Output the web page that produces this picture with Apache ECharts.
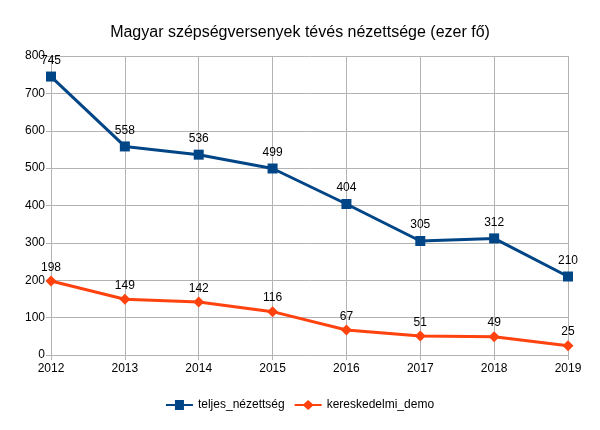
<!DOCTYPE html>
<html><head><meta charset="utf-8">
<script src="https://cdn.jsdelivr.net/npm/echarts@6/dist/echarts.min.js"></script>
<style>html,body{margin:0;padding:0;background:#fff}#c{width:600px;height:430px}</style>
</head><body><div id="c"></div>
<script>
const years = ['2012','2013','2014','2015','2016','2017','2018','2019'];
const teljes = [745,558,536,499,404,305,312,210];
const kereskedelmi = [198,149,142,116,67,51,49,25];
const chart = echarts.init(document.getElementById('c'), null, {renderer:'canvas'});
const ff = '"Liberation Sans", Arial, sans-serif';
chart.setOption({
  animation:false,
  backgroundColor:'#fff',
  title:{text:'Magyar szépségversenyek tévés nézettsége (ezer fő)',left:'center',top:20,
    textStyle:{fontFamily:ff,fontSize:16,fontWeight:'normal',color:'#000'}},
  grid:{left:51,right:32,top:56,bottom:75},
  legend:{bottom:14,left:'center',itemWidth:27,itemHeight:10,itemGap:10,
    textStyle:{fontFamily:ff,fontSize:12,color:'#000'},
    data:[{name:'teljes_nézettség',icon:'path://M0,4L9,4L9,0L18,0L18,4L27,4L27,6L18,6L18,10L9,10L9,6L0,6Z'},
          {name:'kereskedelmi_demo',icon:'path://M0,4L9,4L13.5,0L18,4L27,4L27,6L18,6L13.5,10L9,6L0,6Z'}]},
  xAxis:{type:'category',data:years,boundaryGap:false,
    axisLine:{lineStyle:{color:'#b3b3b3'}},
    axisTick:{show:true,alignWithLabel:true,length:5,lineStyle:{color:'#b3b3b3'}},
    axisLabel:{fontFamily:ff,fontSize:12,color:'#000',margin:8},
    splitLine:{show:true,lineStyle:{color:'#b3b3b3'}}},
  yAxis:{type:'value',min:0,max:800,interval:100,
    axisLine:{show:true,lineStyle:{color:'#b3b3b3'}},
    axisTick:{show:true,length:5,lineStyle:{color:'#b3b3b3'}},
    axisLabel:{fontFamily:ff,fontSize:12,color:'#000',margin:6},
    splitLine:{lineStyle:{color:'#b3b3b3'}}},
  series:[
    {name:'teljes_nézettség',type:'line',data:teljes,color:'#004586',
      symbol:'rect',symbolSize:10,lineStyle:{width:3,color:'#004586'},itemStyle:{color:'#004586'},
      label:{show:true,position:'top',distance:5,fontFamily:ff,fontSize:12,color:'#000'}},
    {name:'kereskedelmi_demo',type:'line',data:kereskedelmi,color:'#ff420e',
      symbol:'diamond',symbolSize:11,lineStyle:{width:3,color:'#ff420e'},itemStyle:{color:'#ff420e'},
      label:{show:true,position:'top',distance:2,fontFamily:ff,fontSize:12,color:'#000'}}
  ]
});
</script></body></html>
